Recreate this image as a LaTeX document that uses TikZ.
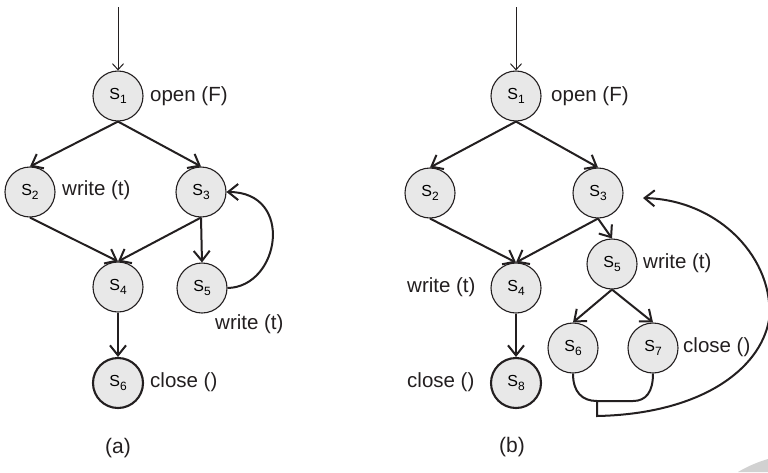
\documentclass[tikz,border=0pt]{standalone}
\usepackage{fontspec}
\setmainfont{Liberation Sans}
\usetikzlibrary{arrows.meta}
\definecolor{ink}{HTML}{231F20}
\definecolor{stfill}{HTML}{E8E8E8}
\newcommand\stname[1]{{\fontsize{16}{16}\selectfont S\raisebox{-0.5ex}{\fontsize{12}{12}\selectfont #1}}}
\tikzset{
  st/.style={circle,draw=ink,fill=stfill,line width=1.1pt,minimum size=50pt,inner sep=0pt},
  fin/.style={st,line width=2.1pt},
  lbl/.style={anchor=west,inner sep=0pt,font=\fontsize{20.5}{22}\selectfont,text=ink},
  captext/.style={inner sep=0pt,font=\fontsize{21}{22}\selectfont,text=ink},
  conn/.style={draw=ink,line width=2pt,-{Straight Barb[length=10pt,width=16pt]}},
  entry/.style={draw=ink,line width=1pt,-{Straight Barb[length=6pt,width=11pt]}},
  plain/.style={draw=ink,line width=2pt}
}
\begin{document}
\begin{tikzpicture}[x=1pt,y=-1pt]
\useasboundingbox (0,0) rectangle (768,472);
\fill[white] (0,0) rectangle (768,472);
% faint corner artifact
\fill[black!18] (738,472) .. controls (748,466) and (758,462) .. (768,459) -- (768,472) -- cycle;

% ---------- (a) ----------
\coordinate (a0) at (118,7);
\node[st]  (a1) at (118,96)  {\stname{1}};
\node[st]  (a2) at (30,192)  {\stname{2}};
\node[st]  (a3) at (201,192) {\stname{3}};
\node[st]  (a4) at (118,287) {\stname{4}};
\node[st]  (a5) at (202,288) {\stname{5}};
\node[fin] (a6) at (118,383) {\stname{6}};

\node[lbl] (la1) at (150,96)  {open (F)};
\node[lbl] (la2) at (62,190)  {write (t)};
\node[lbl] (la5) at (215,324) {write (t)};
\node[lbl] (la6) at (150,382) {close ()};
\node[captext] (capa) at (118,448) {(a)};

\draw[entry] (a0) -- (a1.north);
\draw[conn] (a1.south) -- (a2.north);
\draw[conn] (a1.south) -- (a3.north);
\draw[conn] (a2.south) -- (a4.north);
\draw[conn] (a3.south) -- (a4.north);
\draw[conn] (a3.south) -- (a5.north);
\draw[conn] (a4.south) -- (a6.north);
\draw[conn] (a5.east) .. controls (280,287) and (295,192) .. (a3.east);

% ---------- (b) ----------
\coordinate (b0) at (516,7);
\node[st]  (b1) at (516,96)  {\stname{1}};
\node[st]  (b2) at (430,193) {\stname{2}};
\node[st]  (b3) at (598,193) {\stname{3}};
\node[st]  (b4) at (516,288) {\stname{4}};
\node[st]  (b5) at (612,264) {\stname{5}};
\node[st]  (b6) at (573,348) {\stname{6}};
\node[st]  (b7) at (653,348) {\stname{7}};
\node[fin] (b8) at (516,383) {\stname{8}};

\node[lbl] (lb1) at (551,96)  {open (F)};
\node[lbl] (lb4) at (407,287) {write (t)};
\node[lbl] (lb5) at (643,263) {write (t)};
\node[lbl] (lb7) at (683,347) {close ()};
\node[lbl] (lb8) at (407,382) {close ()};
\node[captext] (capb) at (512,447) {(b)};

\draw[entry] (b0) -- (b1.north);
\draw[conn] (b1.south) -- (b2.north);
\draw[conn] (b1.south) -- (b3.north);
\draw[conn] (b2.south) -- (b4.north);
\draw[conn] (b3.south) -- (b4.north);
\draw[conn] (b3.south) -- (b5.north);
\draw[conn] (b4.south) -- (b8.north);
\draw[conn] (b5.south) -- (b6.north);
\draw[conn] (b5.south) -- (b7.north);

\coordinate (ujoin) at (597,401);
\coordinate (ret) at (597,416);
\coordinate (b3in) at (643,198);
\draw[plain] (b6.south) .. controls (573,392) and (582,401) .. (ujoin)
  -- (633,401) .. controls (646,401) and (653,392) .. (b7.south);
\draw[conn] (ujoin) -- (ret) .. controls (700,414) and (760,370) .. (769,320)
  .. controls (775,260) and (720,200) .. (b3in);
\end{tikzpicture}
\end{document}
